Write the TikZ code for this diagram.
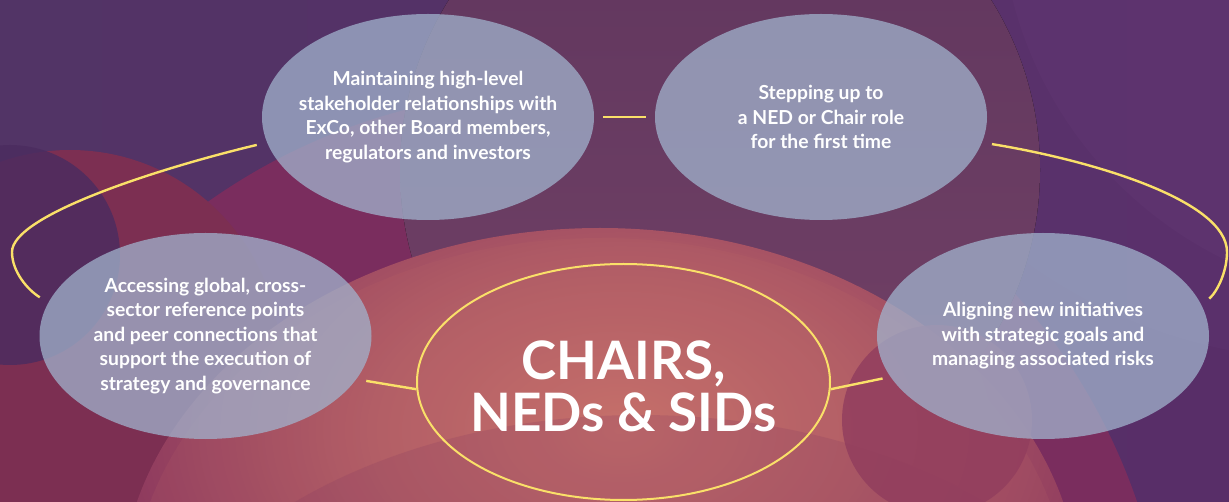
\documentclass[tikz,border=0pt]{standalone}
\usepackage{fontspec}
\setmainfont{Lato}
\usetikzlibrary{shapes.geometric}

% palette
\definecolor{bgL}{RGB}{82,52,102}
\definecolor{bgM}{RGB}{104,58,102}
\definecolor{bgR}{RGB}{88,46,104}
\definecolor{duskpurple}{RGB}{76,44,96}
\definecolor{plumred}{RGB}{124,47,82}
\definecolor{magentaveil}{RGB}{122,45,94}
\definecolor{warmtop}{RGB}{104,58,102}
\definecolor{warmlow}{RGB}{124,72,110}
\definecolor{violetband}{RGB}{96,54,114}
\definecolor{coralC}{RGB}{198,112,106}
\definecolor{coralM}{RGB}{176,92,102}
\definecolor{coralE}{RGB}{142,58,94}
\definecolor{rosedeep}{RGB}{146,62,94}
\definecolor{bandshade}{RGB}{130,54,96}
\definecolor{bubblefill}{RGB}{161,179,205}
\definecolor{linkyellow}{RGB}{250,224,105}

% radial glow: 25bp reaches the edge of the shaded path's box
\pgfdeclareradialshading{coralglow}{\pgfpointorigin}{%
  color(0bp)=(coralC); color(12bp)=(coralM); color(24bp)=(coralE); color(50bp)=(coralE)}

\tikzset{
  bubble/.style={ellipse, minimum width=332pt, minimum height=206pt, inner sep=0pt,
    fill=bubblefill, fill opacity=0.75},
  bubbletext/.style={text=white, align=center, inner sep=0pt,
    font=\bfseries\fontsize{19.3}{24.5}\selectfont},
  hubring/.style={ellipse, minimum width=413pt, minimum height=236pt, inner sep=0pt,
    draw=linkyellow, line width=2pt},
  hubtext/.style={text=white, align=center, inner sep=0pt,
    font=\bfseries\fontsize{53}{52}\selectfont},
  link/.style={draw=linkyellow, line width=2.4pt},
}

\begin{document}
\begin{tikzpicture}[x=1pt, y=-1pt]
\useasboundingbox (0,0) rectangle (1229,502);

% ---- backdrop ----
\begin{scope}
  \clip (0,0) rectangle (1229,502);
  \fill[left color=bgL, middle color=bgM, right color=bgR] (0,0) rectangle (1229,502);
  \fill[violetband, opacity=0.5] (1400,-100) circle (400);
  \fill[violetband, opacity=0.3] (1330,-160) circle (520);
  \fill[magentaveil] (560,700) circle (610);
  \fill[top color=warmtop, bottom color=warmlow, opacity=0.92] (720,170) circle (320);
  \fill[plumred] (70,360) circle (210);
  \fill[duskpurple, opacity=0.85] (10,255) circle (110);
  % warm glow in the lower middle
  \begin{scope}
    \clip (600,600) ellipse [x radius=480, y radius=372];
    \shade[shading=coralglow] (620,430) ellipse [x radius=520, y radius=330];
  \end{scope}
  \fill[coralC, opacity=0.12] (600,610) ellipse [x radius=470, y radius=372];
  \fill[bandshade, opacity=0.2] (640,760) ellipse [x radius=520, y radius=345];
  \fill[rosedeep, opacity=0.85] (937,420) circle (95);
\end{scope}

% ---- topic bubbles ----
\node[bubble] (tl) at (428,117) {};
\node[bubble] (tr) at (821,117) {};
\node[bubble] (l) at (205.5,336) {};
\node[bubble] (r) at (1043,336) {};
\node[bubbletext] (tltext) at (tl.center) {Maintaining high-level\\stakeholder relationships with\\ExCo, other Board members,\\regulators and investors};
\node[bubbletext] (trtext) at (tr.center) {Stepping up to\\a NED or Chair role\\for the first time};
\node[bubbletext] (ltext) at (l.center) {Accessing global, cross-\\sector reference points\\and peer connections that\\support the execution of\\strategy and governance};
\node[bubbletext] (rtext) at (r.center) {Aligning new initiatives\\with strategic goals and\\managing associated risks};

% ---- central ring ----
\node[hubring] (hub) at (623.5,382) {};
\node[hubtext] (hublabel) at ([yshift=-4pt]hub.center) {CHAIRS,\\NEDs \& SIDs};

% ---- connectors ----
\draw[link, shorten <=9pt, shorten >=9pt] (tl.east) -- (tr.west);
\draw[link, shorten <=10.5pt, shorten >=10pt]
  (tl.189) .. controls (160,168) and (12,215) .. (12,252)
           .. controls (12,272) and (28,290) .. (l.168);
\draw[link, shorten <=10pt, shorten >=10pt]
  (tr.-9) .. controls (1090,160) and (1227,200) .. (1227,252)
          .. controls (1227,272) and (1217,292) .. (r.11.5);
\draw[link, shorten <=10pt] (l.-16) -- (hub.182);
\draw[link, shorten >=8pt] (hub.-2) -- (r.195);
\end{tikzpicture}
\end{document}
